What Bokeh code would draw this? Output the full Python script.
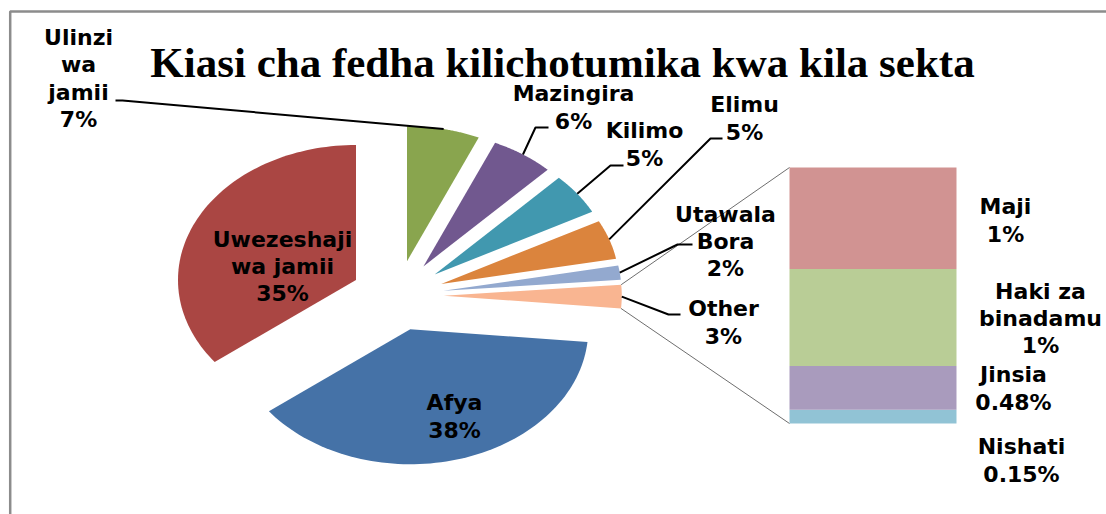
import numpy as np
from bokeh.plotting import figure
from bokeh.models import Range1d
from bokeh.core.properties import value
from bokeh.embed import file_html
from bokeh.resources import INLINE

# ---------------- data ----------------
title_text = "Kiasi cha fedha kilichotumika kwa kila sekta"
sectors = ["Ulinzi wa jamii", "Mazingira", "Kilimo", "Elimu", "Utawala Bora",
           "Other", "Afya", "Uwezeshaji wa jamii"]
sector_label_lines = ["Ulinzi\nwa\njamii", "Mazingira", "Kilimo", "Elimu",
                      "Utawala\nBora", "Other", "Afya", "Uwezeshaji\nwa jamii"]
shares = [6.6, 5.7, 5.0, 4.7, 1.7, 2.8, 38.1, 35.4]
pie_colors = ["#89A54E", "#71588F", "#4198AF", "#DB843D", "#93A9CF",
              "#F9B591", "#4572A7", "#AA4643"]

bar_items = ["Maji", "Haki za binadamu", "Jinsia", "Nishati"]
bar_item_lines = ["Maji", "Haki za\nbinadamu", "Jinsia", "Nishati"]
bar_shares = [1.11, 1.06, 0.48, 0.15]
bar_pct_labels = ["1%", "1%", "0.48%", "0.15%"]
bar_colors = ["#D19392", "#B9CD96", "#A99BBD", "#91C3D5"]

# ---------------- layout ----------------
W, H = 1106, 514
X0, Y0 = 0, 0  # picture offset of the figure
PIE_CX, PIE_CY, PIE_RX, PIE_RY = 397, 295, 178, 135
EXPLODE = 0.26
BAR_L, BAR_R, BAR_T, BAR_B = 789, 956, 167, 423

LABEL_FONT = value("DejaVu Sans")
LABEL_SIZE = "22px"
LINE_H = 1.09

p = figure(width=W, height=H, output_backend="svg", toolbar_location=None,
           x_range=Range1d(X0, X0 + W), y_range=Range1d(Y0 + H, Y0),
           x_axis_type=None, y_axis_type=None, min_border=0,
           outline_line_color=None, background_fill_color="white",
           border_fill_color="white")
p.grid.visible = False

# pie coordinate system: unit ellipse centred on the pie
p.extra_x_ranges = {"pie": Range1d((X0 - PIE_CX) / PIE_RX, (X0 + W - PIE_CX) / PIE_RX)}
p.extra_y_ranges = {"pie": Range1d((PIE_CY - (Y0 + H)) / PIE_RY, (PIE_CY - Y0) / PIE_RY)}
bar_total = sum(bar_shares)
k = (BAR_B - BAR_T) / bar_total
p.extra_y_ranges["bar"] = Range1d((BAR_B - (Y0 + H)) / k, (BAR_B - Y0) / k)


def to_page(u, v):
    return PIE_CX + PIE_RX * u, PIE_CY - PIE_RY * v


# frame border (left and top)
p.line([9.7, 9.7, 1120], [530, 11, 11], line_color="#8c8c8c", line_width=2.5)

# ---------------- pie ----------------
total = sum(shares)
fr = np.array(shares) / total
ends = np.cumsum(fr) * 2 * np.pi
starts = ends - fr * 2 * np.pi
xs, ys, apexes, mids = [], [], [], []
for a0, a1 in zip(starts, ends):
    m = (a0 + a1) / 2
    ax, ay = EXPLODE * np.sin(m), EXPLODE * np.cos(m)
    t = np.linspace(a0, a1, 80)
    xs.append(np.concatenate([[ax], ax + np.sin(t)]).tolist())
    ys.append(np.concatenate([[ay], ay + np.cos(t)]).tolist())
    apexes.append((ax, ay))
    mids.append(m)
p.patches(xs, ys, fill_color=pie_colors, line_color=None,
          x_range_name="pie", y_range_name="pie")

# ---------------- bar (stacked, bottom = last item) ----------------
order = list(range(len(bar_shares)))[::-1]
bottoms, tops, cols = [], [], []
acc = 0.0
for i in order:
    bottoms.append(acc)
    acc += bar_shares[i]
    tops.append(acc)
    cols.append(bar_colors[i])
p.quad(left=[BAR_L] * len(order), right=[BAR_R] * len(order), bottom=bottoms,
       top=tops, fill_color=cols, line_color=None, y_range_name="bar")

# series lines from the Other slice to the bar
oi = sectors.index("Other")
ax, ay = apexes[oi]
c0 = to_page(ax + np.sin(starts[oi]), ay + np.cos(starts[oi]))
c1 = to_page(ax + np.sin(ends[oi]), ay + np.cos(ends[oi]))
p.segment(x0=[c0[0], c1[0]], y0=[c0[1], c1[1]], x1=[BAR_L, BAR_L],
          y1=[BAR_T, BAR_B], line_color="#6e6e6e", line_width=1)

# ---------------- labels ----------------
pie_label_pos = [(78, 78), (573, 107), (644, 144), (744, 118), (725, 241),
                 (723, 322), (454, 416), (282, 266)]
leader_anchor = {0: ((115, 100), (122, 100)), 1: ((548, 127), (535, 127)),
                 2: ((623, 165), (610, 165)), 3: ((722, 138), (710, 138)),
                 4: ((692, 244), (677, 244)), 5: ((680, 314), (668, 314))}
for i, (a, b) in leader_anchor.items():
    axi, ayi = apexes[i]
    ex, ey = to_page(axi + np.sin(mids[i]), ayi + np.cos(mids[i]))
    p.line([a[0], b[0], ex], [a[1], b[1], ey], line_color="black", line_width=2)

pie_texts = [f"{lab}\n{round(s)}%" for lab, s in zip(sector_label_lines, shares)]
p.text(x=[q[0] for q in pie_label_pos], y=[q[1] for q in pie_label_pos],
       text=pie_texts, text_align="center", text_baseline="middle",
       text_font=LABEL_FONT, text_font_style="bold", text_font_size=LABEL_SIZE,
       text_line_height=LINE_H, text_color="black")

bar_label_pos = [(1005, 220), (1040, 318), (1013, 388), (1021, 460)]
bar_texts = [f"{lab}\n{pct}" for lab, pct in zip(bar_item_lines, bar_pct_labels)]
p.text(x=[q[0] for q in bar_label_pos], y=[q[1] for q in bar_label_pos],
       text=bar_texts, text_align="center", text_baseline="middle",
       text_font=LABEL_FONT, text_font_style="bold", text_font_size=LABEL_SIZE,
       text_line_height=LINE_H, text_color="black")

# title
p.text(x=[562], y=[62], text=[title_text], text_align="center",
       text_baseline="alphabetic", text_font=value("Liberation Serif"),
       text_font_style="bold", text_font_size="43px", text_color="black")

open("out.html", "w").write(file_html(p, INLINE))
